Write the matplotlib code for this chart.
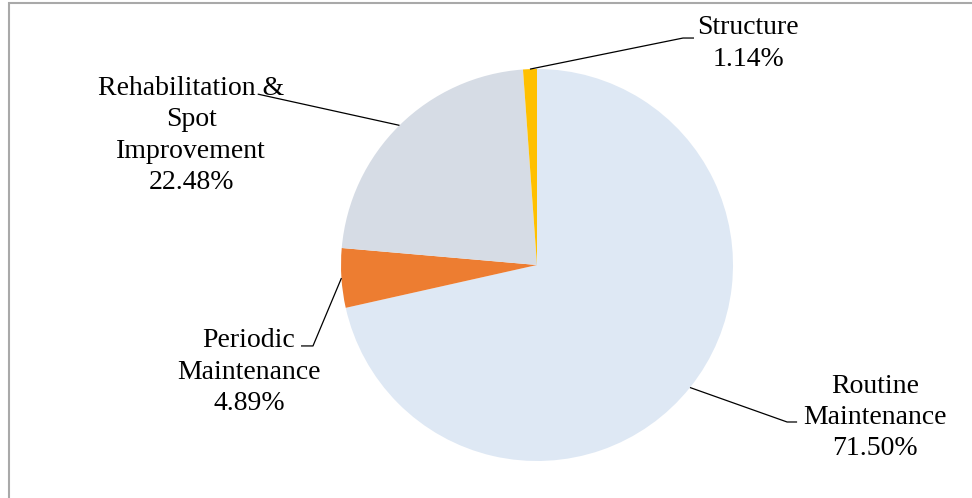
import numpy as np
import matplotlib
matplotlib.use("Agg")
import matplotlib.pyplot as plt
from matplotlib.patches import Rectangle

# Share of maintenance budget by work type
categories = ["Routine\nMaintenance", "Periodic\nMaintenance",
              "Rehabilitation &\nSpot\nImprovement", "Structure"]
shares = [71.50, 4.89, 22.48, 1.14]
colors = ["#DEE8F4", "#ED7D31", "#D6DCE5", "#FFC000"]

# label centres, leader elbows and leader ends (pie radius = 1)
label_pos = [(1.724, -0.778), (-1.469, -0.547), (-1.765, 0.661), (1.077, 1.130)]
elbow_pos = [(1.276, -0.801), (-1.143, -0.413), (-1.425, 0.872), (0.745, 1.158)]
end_pos = [(1.327, -0.801), (-1.204, -0.413), (-1.425, 0.872), (0.801, 1.158)]

plt.rcParams['font.family'] = ['Liberation Serif', 'DejaVu Serif']

fig = plt.figure(figsize=(9.72, 4.98), dpi=100)
W, H = 972, 498
cx, cy, r = 537, 265, 196
ax = fig.add_axes([(cx - r) / W, (H - cy - r) / H, 2 * r / W, 2 * r / H])

wedges, _ = ax.pie(shares, colors=colors, startangle=90, counterclock=False,
                   radius=1, wedgeprops=dict(linewidth=0))
ax.set_xlim(-1, 1)
ax.set_ylim(-1, 1)
ax.set_aspect('equal')
ax.axis('off')

for w, cat, val, lp, ep, xp in zip(wedges, categories, shares, label_pos, elbow_pos, end_pos):
    mid = np.deg2rad((w.theta1 + w.theta2) / 2)
    x0, y0 = np.cos(mid), np.sin(mid)
    ax.plot([x0, ep[0], xp[0]], [y0, ep[1], xp[1]], color='black', lw=0.9,
            clip_on=False, solid_capstyle='butt')
    ax.text(lp[0], lp[1], f"{cat}\n{val:.2f}%", ha='center', va='center',
            fontsize=20, linespacing=1.33, color='black', clip_on=False)

# chart border
fig.patches.append(Rectangle((8.5 / W, 0 - 0.01), 1.0, (H - 2.5) / H + 0.01,
                             transform=fig.transFigure, fill=False,
                             edgecolor='#A9A9A9', linewidth=1.5))

fig.savefig("out.png", dpi=100)
